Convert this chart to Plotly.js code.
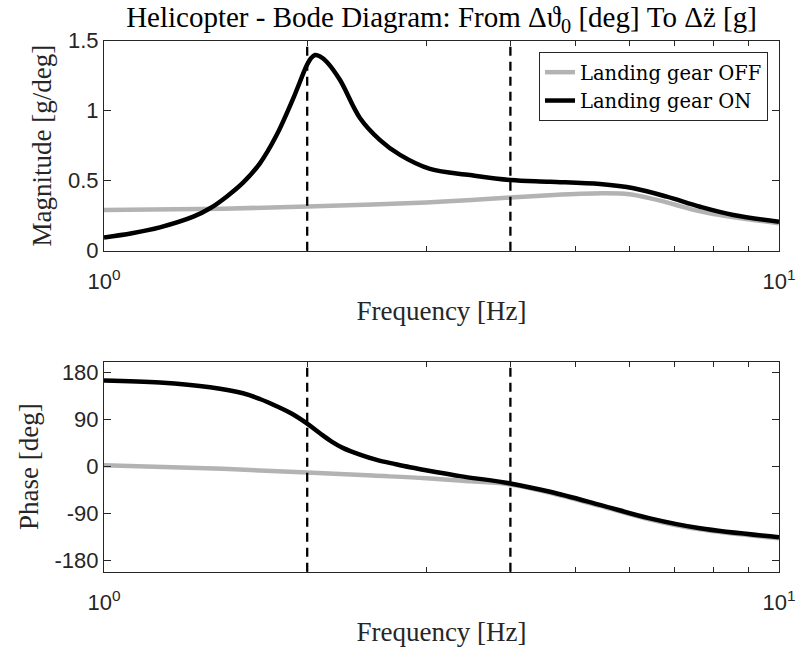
<!DOCTYPE html>
<html><head><meta charset="utf-8">
<script src="https://cdn.plot.ly/plotly-3.0.1.min.js"></script>
<style>html,body{margin:0;padding:0;background:#fff}#plot{width:797px;height:649px}</style>
</head><body><div id="plot"></div>
<script>
// Magnitude, landing gear ON
const freqOnMag = [1, 1.1, 1.21, 1.356, 1.436, 1.519, 1.607, 1.702, 1.802, 1.907, 1.998, 2.026, 2.054, 2.09, 2.137, 2.237, 2.394, 2.564, 2.745, 3.04, 3.486, 4.0, 4.58, 5.43, 6.09, 6.82, 7.64, 8.56, 10];
const magOn = [0.095, 0.125, 0.167, 0.243, 0.303, 0.386, 0.486, 0.624, 0.826, 1.088, 1.326, 1.375, 1.398, 1.388, 1.35, 1.219, 0.948, 0.79, 0.684, 0.584, 0.54, 0.505, 0.493, 0.476, 0.446, 0.386, 0.314, 0.255, 0.207];
// Magnitude, landing gear OFF
const freqOffMag = [1, 1.5, 2, 2.5, 3, 3.5, 4, 4.5, 5, 5.5, 6, 6.5, 7, 7.5, 8, 9, 10];
const magOff = [0.29, 0.30, 0.315, 0.33, 0.345, 0.362, 0.38, 0.395, 0.405, 0.41, 0.403, 0.37, 0.33, 0.29, 0.262, 0.225, 0.196];
// Phase, landing gear ON
const freqOnPh = [1, 1.21, 1.436, 1.607, 1.702, 1.802, 1.907, 2.0, 2.089, 2.18, 2.262, 2.4, 2.535, 2.7, 2.84, 3.1, 3.37, 4.0, 4.58, 5.43, 6.44, 7.64, 10];
const phOn = [165, 161, 152, 140.5, 129.6, 115.7, 100, 82.5, 64, 47, 35.5, 22.6, 13, 5, -1, -10, -18, -32, -48, -73, -99, -118, -135];
// Phase, landing gear OFF
const freqOffPh = [1, 1.5, 2, 2.5, 3, 3.5, 4, 4.58, 5.43, 6.44, 7.64, 10];
const phOff = [3, -4, -11, -17, -22, -28, -34, -50, -75, -101, -120, -137];
// Marked frequencies (dashed lines)
const markFreqs = [2, 4];
// Tick labels
const xTickVals = [1, 10];
const xTickText = ['10<sup>0</sup>', '10<sup>1</sup>'];
const xMinorVals = [2, 3, 4, 5, 6, 7, 8, 9];
const magTicks = [0, 0.5, 1, 1.5];
const magTickText = ['0', '0.5', '1', '1.5'];
const phTicks = [-180, -90, 0, 90, 180];
const phTickText = ['-180', '-90', '0', '90', '180'];
const seriesNames = ['Landing gear OFF', 'Landing gear ON'];

const gray = 'rgb(179,179,179)';
const axCol = '#262626';
const serif = 'Liberation Serif, Times New Roman, serif';
const sans = 'Liberation Sans, Arial, sans-serif';

const traces = [
  {x: freqOffMag, y: magOff, xaxis: 'x', yaxis: 'y', mode: 'lines', name: seriesNames[0], line: {color: gray, width: 4.5, shape: 'spline', smoothing: 1}},
  {x: freqOnMag, y: magOn, xaxis: 'x', yaxis: 'y', mode: 'lines', name: seriesNames[1], line: {color: '#000', width: 4.5, shape: 'spline', smoothing: 1}},
  {x: freqOffPh, y: phOff, xaxis: 'x2', yaxis: 'y2', mode: 'lines', name: seriesNames[0], showlegend: false, line: {color: gray, width: 4.5, shape: 'spline', smoothing: 1}},
  {x: freqOnPh, y: phOn, xaxis: 'x2', yaxis: 'y2', mode: 'lines', name: seriesNames[1], showlegend: false, line: {color: '#000', width: 4.5, shape: 'spline', smoothing: 1}}
];

const xDom = [104/797, 779/797];
function xAx(anchor) {
  return {
    type: 'log', range: [0, 1], domain: xDom, anchor: anchor,
    tickmode: 'array', tickvals: xTickVals, ticktext: xTickText,
    ticks: 'inside', ticklen: 6, tickcolor: axCol, tickwidth: 1,
    minor: {tickmode: 'array', tickvals: xMinorVals, ticks: 'inside', ticklen: 5, tickcolor: axCol, tickwidth: 1, showgrid: false},
    showline: true, linecolor: axCol, linewidth: 1, mirror: 'ticks',
    showgrid: false, zeroline: false, ticklabelstandoff: 11,
    tickfont: {family: sans, size: 22, color: axCol},
    title: {text: 'Frequency [Hz]', font: {family: serif, size: 27, color: axCol}, standoff: 8},
    automargin: false
  };
}
function yAx(anchor, dom, rng, tv, tt, title) {
  return {
    domain: dom, anchor: anchor, range: rng,
    tickmode: 'array', tickvals: tv, ticktext: tt,
    ticks: 'inside', ticklen: 7, tickcolor: axCol, tickwidth: 1,
    showline: true, linecolor: axCol, linewidth: 1, mirror: 'ticks',
    showgrid: false, zeroline: false,
    tickfont: {family: sans, size: 22, color: axCol},
    title: {text: title, font: {family: serif, size: 27, color: axCol}, standoff: 8},
    automargin: false
  };
}

const shapes = [];
markFreqs.forEach(f => {
  ['y', 'y2'].forEach((ya, i) => {
    shapes.push({type: 'line', xref: i === 0 ? 'x' : 'x2', yref: ya + ' domain', x0: f, x1: f, y0: 0, y1: 1,
      line: {color: '#000', width: 2.3, dash: '9px,6px'}});
  });
});

const layout = {
  width: 797, height: 649,
  margin: {l: 0, r: 0, t: 0, b: 0},
  paper_bgcolor: '#fff', plot_bgcolor: '#fff',
  showlegend: true,
  title: {text: 'Helicopter - Bode Diagram: From \u0394\u03D1<sub>0</sub> [deg] To \u0394z\u0308 [g]',
    font: {family: serif, size: 29, color: '#000'}, x: 441.5/797, xanchor: 'center', xref: 'paper',
    y: 1 - 17/649, yanchor: 'middle', yref: 'paper'},
  xaxis: xAx('y'),
  yaxis: yAx('x', [1 - 250.7/649, 1 - 40.7/649], [0, 1.5], magTicks, magTickText, 'Magnitude [g/deg]'),
  xaxis2: xAx('y2'),
  yaxis2: yAx('x2', [1 - 571.7/649, 1 - 361.7/649], [-201, 201], phTicks, phTickText, 'Phase [deg]'),
  legend: {x: 768/797, xanchor: 'right', y: 1 - 52/649, yanchor: 'top', bgcolor: '#fff',
    bordercolor: axCol, borderwidth: 1, font: {family: 'DejaVu Serif, serif', size: 19.5, color: '#000'},
    tracegroupgap: 0, itemwidth: 30},
  shapes: shapes
};

Plotly.newPlot('plot', traces, layout, {staticPlot: true, displayModeBar: false});
</script>
</body></html>
